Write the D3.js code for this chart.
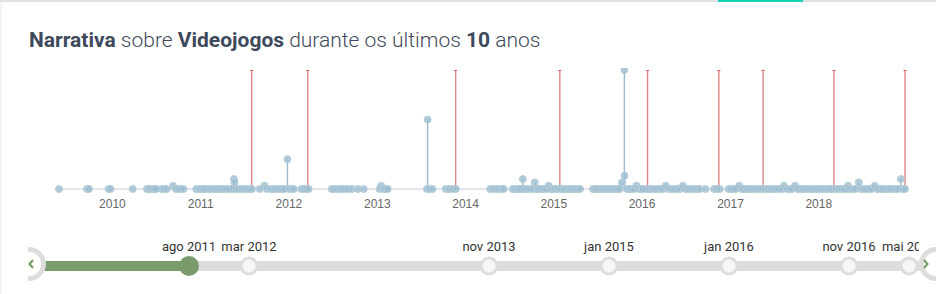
<!DOCTYPE html>
<html>
<head>
<meta charset="utf-8">
<script src="https://cdn.jsdelivr.net/npm/d3@7"></script>
<style>
  body { margin: 0; background: #fff; }
</style>
</head>
<body>
<div id="container"></div>
<script>
const w = 936,
  h = 294;

// mentions per day: [date, count]
const mentions2009 = [
  ['2009-05-27', 1], ['2009-09-20', 1], ['2009-09-28', 1], ['2009-12-18', 1], ['2009-12-26', 1]
];
const mentions2010 = [
  ['2010-03-28', 1], ['2010-05-26', 1], ['2010-06-02', 1], ['2010-06-10', 1], ['2010-06-18', 1],
  ['2010-06-26', 1], ['2010-07-03', 1], ['2010-07-26', 1], ['2010-08-05', 1], ['2010-08-16', 1],
  ['2010-09-11', 2], ['2010-09-22', 1], ['2010-10-01', 1], ['2010-10-12', 1], ['2010-10-24', 1],
  ['2010-12-16', 1], ['2010-12-28', 1]
];
const mentions2011 = [
  ['2011-01-08', 1], ['2011-01-15', 1], ['2011-01-22', 1], ['2011-02-03', 1], ['2011-02-14', 1],
  ['2011-02-26', 1], ['2011-03-10', 1], ['2011-03-20', 1], ['2011-03-30', 1], ['2011-04-10', 1],
  ['2011-04-22', 1], ['2011-05-02', 1], ['2011-05-14', 1], ['2011-05-21', 4], ['2011-05-23', 3],
  ['2011-05-28', 1], ['2011-06-08', 1], ['2011-06-20', 1], ['2011-07-02', 1], ['2011-07-14', 1],
  ['2011-07-25', 1], ['2011-08-04', 1], ['2011-09-04', 1], ['2011-09-24', 2], ['2011-10-04', 1],
  ['2011-10-20', 1], ['2011-11-03', 1], ['2011-11-14', 1], ['2011-11-25', 1], ['2011-12-06', 1],
  ['2011-12-16', 1], ['2011-12-28', 10]
];
const mentions2012 = [
  ['2012-01-05', 1], ['2012-01-14', 1], ['2012-01-24', 1], ['2012-02-24', 1], ['2012-03-04', 1],
  ['2012-03-14', 1], ['2012-03-25', 1], ['2012-06-28', 1], ['2012-07-06', 1], ['2012-07-18', 1],
  ['2012-07-30', 1], ['2012-08-08', 1], ['2012-08-20', 1], ['2012-09-04', 1], ['2012-09-20', 1],
  ['2012-10-15', 1], ['2012-11-08', 1]
];
const mentions2013 = [
  ['2013-01-12', 1], ['2013-01-19', 2], ['2013-01-28', 1], ['2013-02-06', 1], ['2013-02-15', 1],
  ['2013-07-27', 1], ['2013-07-30', 22], ['2013-08-05', 1], ['2013-08-19', 1], ['2013-10-13', 1],
  ['2013-10-28', 1], ['2013-11-10', 1], ['2013-11-24', 1]
];
const mentions2014 = [
  ['2014-04-15', 1], ['2014-04-26', 1], ['2014-05-08', 1], ['2014-05-20', 1], ['2014-06-02', 1],
  ['2014-06-10', 1], ['2014-07-17', 1], ['2014-07-26', 1], ['2014-08-04', 1], ['2014-08-12', 1],
  ['2014-08-20', 1], ['2014-08-28', 4], ['2014-09-02', 1], ['2014-09-10', 1], ['2014-09-19', 1],
  ['2014-09-28', 1], ['2014-10-08', 1], ['2014-10-16', 3], ['2014-10-24', 1], ['2014-11-02', 1],
  ['2014-11-12', 1], ['2014-11-22', 1], ['2014-12-02', 1], ['2014-12-13', 2], ['2014-12-20', 1],
  ['2014-12-29', 1]
];
const mentions2015 = [
  ['2015-01-06', 1], ['2015-01-14', 1], ['2015-01-24', 1], ['2015-02-03', 1], ['2015-02-12', 1],
  ['2015-02-22', 1], ['2015-03-04', 1], ['2015-03-14', 1], ['2015-03-24', 1], ['2015-04-02', 1],
  ['2015-04-12', 1], ['2015-04-22', 1], ['2015-06-14', 1], ['2015-06-24', 1], ['2015-07-04', 1],
  ['2015-07-14', 1], ['2015-07-24', 1], ['2015-08-03', 1], ['2015-08-13', 1], ['2015-08-23', 1],
  ['2015-09-02', 1], ['2015-09-12', 1], ['2015-09-22', 1], ['2015-10-02', 1], ['2015-10-12', 3],
  ['2015-10-22', 37], ['2015-10-23', 5], ['2015-11-01', 1], ['2015-11-11', 1], ['2015-11-21', 1],
  ['2015-12-01', 1], ['2015-12-11', 2], ['2015-12-21', 1], ['2015-12-31', 1]
];
const mentions2016 = [
  ['2016-01-06', 1], ['2016-01-20', 1], ['2016-02-01', 1], ['2016-02-12', 1], ['2016-02-24', 1],
  ['2016-03-06', 1], ['2016-03-18', 1], ['2016-03-30', 1], ['2016-04-10', 2], ['2016-04-22', 1],
  ['2016-05-03', 1], ['2016-05-15', 1], ['2016-05-27', 1], ['2016-06-08', 1], ['2016-06-20', 2],
  ['2016-07-01', 1], ['2016-07-13', 1], ['2016-07-25', 1], ['2016-08-06', 1], ['2016-08-18', 1],
  ['2016-08-30', 1], ['2016-09-22', 1], ['2016-10-27', 1], ['2016-11-06', 1], ['2016-11-20', 1],
  ['2016-12-26', 1]
];
const mentions2017 = [
  ['2017-01-05', 1], ['2017-01-15', 1], ['2017-01-25', 1], ['2017-02-08', 2], ['2017-02-18', 1],
  ['2017-03-01', 1], ['2017-03-12', 1], ['2017-03-22', 1], ['2017-04-02', 1], ['2017-04-13', 1],
  ['2017-04-24', 1], ['2017-05-05', 1], ['2017-05-16', 1], ['2017-05-28', 1], ['2017-06-08', 1],
  ['2017-06-19', 1], ['2017-06-30', 1], ['2017-07-11', 1], ['2017-07-22', 1], ['2017-08-03', 1],
  ['2017-08-12', 2], ['2017-08-24', 1], ['2017-09-04', 1], ['2017-09-15', 1], ['2017-09-27', 2],
  ['2017-10-08', 1], ['2017-10-19', 1], ['2017-10-30', 1], ['2017-11-10', 1], ['2017-11-22', 1],
  ['2017-12-03', 1], ['2017-12-14', 1], ['2017-12-26', 1]
];
const mentions2018 = [
  ['2018-01-06', 1], ['2018-01-17', 1], ['2018-01-28', 1], ['2018-02-08', 1], ['2018-02-19', 1],
  ['2018-03-02', 1], ['2018-03-14', 1], ['2018-03-25', 1], ['2018-04-05', 1], ['2018-04-16', 1],
  ['2018-04-27', 1], ['2018-05-04', 2], ['2018-05-12', 1], ['2018-05-24', 1], ['2018-06-04', 1],
  ['2018-06-18', 3], ['2018-06-27', 1], ['2018-07-08', 1], ['2018-07-19', 1], ['2018-07-30', 1],
  ['2018-08-10', 1], ['2018-08-23', 2], ['2018-09-02', 1], ['2018-09-13', 1], ['2018-09-24', 1],
  ['2018-10-05', 1], ['2018-10-16', 1], ['2018-10-27', 1], ['2018-11-07', 1], ['2018-11-18', 1],
  ['2018-11-28', 1], ['2018-12-09', 4], ['2018-12-18', 1], ['2018-12-26', 1]
];

// timeline events
const eventDates = [
  '2011-08-02', '2012-03-21', '2013-11-23', '2015-01-28', '2016-01-26',
  '2016-11-16', '2017-05-18', '2018-03-07', '2018-12-26'
];
const eventLabels = [
  'ago 2011', 'mar 2012', 'nov 2013', 'jan 2015', 'jan 2016',
  'nov 2016', 'mai 2017', 'mar 2018', 'dez 2018'
];
const selectedEvent = 0;

const yearTicks = [2010, 2011, 2012, 2013, 2014, 2015, 2016, 2017, 2018];

const parse = d3.timeParse('%Y-%m-%d');
const mentions = []
  .concat(mentions2009, mentions2010, mentions2011, mentions2012, mentions2013,
    mentions2014, mentions2015, mentions2016, mentions2017, mentions2018)
  .map((d) => ({ date: parse(d[0]), count: d[1] }));
const events = eventDates.map((d, i) => ({ date: parse(d), label: eventLabels[i] }));

const svg = d3.select('#container').append('svg').attr('width', w).attr('height', h);
const defs = svg.append('defs');

// frame
svg.append('rect').attr('x', 0).attr('y', 0).attr('width', 2).attr('height', h).attr('fill', '#f3f3f3');
svg.append('rect').attr('x', 0).attr('y', 0).attr('width', w).attr('height', 2).attr('fill', '#e2e2e2');
svg.append('rect').attr('x', 718).attr('y', 0).attr('width', 85).attr('height', 2).attr('fill', '#16d1b4');

// title
const title = svg
  .append('text')
  .attr('x', 29)
  .attr('y', 47)
  .attr('font-family', 'Roboto, sans-serif')
  .attr('font-size', 21)
  .attr('fill', '#3e4a5b');
[
  ['Narrativa', 700], [' sobre ', 300], ['Videojogos', 700],
  [' durante os últimos ', 300], ['10', 700], [' anos', 300]
].forEach((p) => title.append('tspan').attr('font-weight', p[1]).text(p[0]));

// scales
const allDates = mentions.map((d) => d.date).concat(events.map((d) => d.date));
const xScale = d3.scaleTime().domain(d3.extent(allDates)).range([59, 905]);
const maxCount = d3.max(mentions, (d) => d.count);
const yScale = d3.scaleLinear().domain([1, maxCount]).range([189, 70]);

defs
  .append('clipPath')
  .attr('id', 'chart-clip')
  .append('rect')
  .attr('x', 0)
  .attr('y', 68)
  .attr('width', w)
  .attr('height', 160);

const chart = svg.append('g').attr('clip-path', 'url(#chart-clip)');

// baseline
chart
  .append('line')
  .attr('x1', xScale.range()[0])
  .attr('x2', xScale.range()[1])
  .attr('y1', yScale(1))
  .attr('y2', yScale(1))
  .attr('stroke', '#c9cad9')
  .attr('stroke-width', 1);

// event lines
chart
  .selectAll('.event-line')
  .data(events)
  .enter()
  .append('line')
  .attr('class', 'event-line')
  .attr('x1', (d) => xScale(d.date))
  .attr('x2', (d) => xScale(d.date))
  .attr('y1', yScale(1))
  .attr('y2', yScale(maxCount))
  .attr('stroke', '#e38484')
  .attr('stroke-width', 1.4);

chart
  .selectAll('.event-cap')
  .data(events)
  .enter()
  .append('line')
  .attr('class', 'event-cap')
  .attr('x1', (d) => xScale(d.date) - 1.5)
  .attr('x2', (d) => xScale(d.date) + 1.5)
  .attr('y1', yScale(maxCount) + 0.5)
  .attr('y2', yScale(maxCount) + 0.5)
  .attr('stroke', '#d25c5c')
  .attr('stroke-width', 1);

// stems
chart
  .selectAll('.stem')
  .data(mentions.filter((d) => d.count > 1))
  .enter()
  .append('line')
  .attr('class', 'stem')
  .attr('x1', (d) => xScale(d.date))
  .attr('x2', (d) => xScale(d.date))
  .attr('y1', yScale(1))
  .attr('y2', (d) => yScale(d.count))
  .attr('stroke', '#9dbdcf')
  .attr('stroke-width', 1.5);

// points
chart
  .selectAll('.point')
  .data(mentions)
  .enter()
  .append('circle')
  .attr('class', 'point')
  .attr('cx', (d) => xScale(d.date))
  .attr('cy', (d) => yScale(d.count))
  .attr('r', 3.5)
  .attr('fill', '#9bbdd0')
  .attr('fill-opacity', 0.8)
  .attr('stroke', '#b6cedb')
  .attr('stroke-width', 1);

// x axis
const xAxis = d3
  .axisBottom(xScale)
  .tickValues(yearTicks.map((y) => new Date(y, 0, 1)))
  .tickFormat(d3.timeFormat('%Y'))
  .tickSize(0)
  .tickPadding(10);

const gx = svg
  .append('g')
  .attr('transform', 'translate(0, ' + yScale(1) + ')')
  .call(xAxis);
gx.select('.domain').remove();
gx.selectAll('text')
  .attr('font-family', '"Liberation Sans", Arial, sans-serif')
  .attr('font-size', 12)
  .attr('fill', '#666');

// timeline
const trackY = 266;
const slotWidth = 60;
const dayMs = 24 * 3600 * 1000;
const lapses = d3.pairs(events).map((p) => (p[1].date - p[0].date) / dayMs);
const minLapse = d3.min(lapses);
events.forEach((d) => {
  d.slot = Math.round((d.date - events[0].date) / dayMs / minLapse);
});
const tlScale = d3.scaleLinear().domain([0, 1]).range([189, 189 + slotWidth]);

defs
  .append('clipPath')
  .attr('id', 'timeline-clip')
  .append('rect')
  .attr('x', 28)
  .attr('y', 225)
  .attr('width', w - 28)
  .attr('height', 69);

defs
  .append('clipPath')
  .attr('id', 'label-clip')
  .append('rect')
  .attr('x', 28)
  .attr('y', 225)
  .attr('width', 919 - 28)
  .attr('height', 69);

const tl = svg.append('g').attr('clip-path', 'url(#timeline-clip)');

tl.append('rect')
  .attr('x', 28)
  .attr('y', trackY - 5)
  .attr('width', w - 28)
  .attr('height', 10)
  .attr('fill', '#dddddd');

tl.append('rect')
  .attr('x', 28)
  .attr('y', trackY - 5)
  .attr('width', tlScale(events[selectedEvent].slot) - 28)
  .attr('height', 10)
  .attr('fill', '#7a9c6d');

tl.selectAll('.node')
  .data(events)
  .enter()
  .append('circle')
  .attr('class', 'node')
  .attr('cx', (d) => tlScale(d.slot))
  .attr('cy', trackY)
  .attr('r', (d, i) => (i === selectedEvent ? 10 : 8))
  .attr('fill', (d, i) => (i === selectedEvent ? '#7a9c6d' : '#f6f6f6'))
  .attr('stroke', (d, i) => (i === selectedEvent ? 'none' : '#dddddd'))
  .attr('stroke-width', 3);

tl.append('g')
  .attr('clip-path', 'url(#label-clip)')
  .selectAll('.node-label')
  .data(events)
  .enter()
  .append('text')
  .attr('class', 'node-label')
  .attr('x', (d) => tlScale(d.slot))
  .attr('y', 251)
  .attr('text-anchor', 'middle')
  .attr('font-family', 'Roboto, sans-serif')
  .attr('font-size', 13)
  .attr('fill', '#333')
  .text((d) => d.label);

// arrows
const arrows = [
  { cx: 29, dir: -1 },
  { cx: 936, dir: 1 }
];
tl.selectAll('.arrow')
  .data(arrows)
  .enter()
  .append('circle')
  .attr('class', 'arrow')
  .attr('cx', (d) => d.cx)
  .attr('cy', trackY - 2)
  .attr('r', 14.5)
  .attr('fill', '#fff')
  .attr('stroke', '#dddddd')
  .attr('stroke-width', 5);

tl.selectAll('.chevron')
  .data(arrows)
  .enter()
  .append('path')
  .attr('class', 'chevron')
  .attr('d', (d) => {
    const x = d.dir < 0 ? 33 : 924;
    const tip = x + d.dir * 3.5;
    return 'M' + x + ',' + (trackY - 6) + 'L' + tip + ',' + (trackY - 2) + 'L' + x + ',' + (trackY + 2);
  })
  .attr('fill', 'none')
  .attr('stroke', '#6e9a5e')
  .attr('stroke-width', 2);
</script>
</body>
</html>
